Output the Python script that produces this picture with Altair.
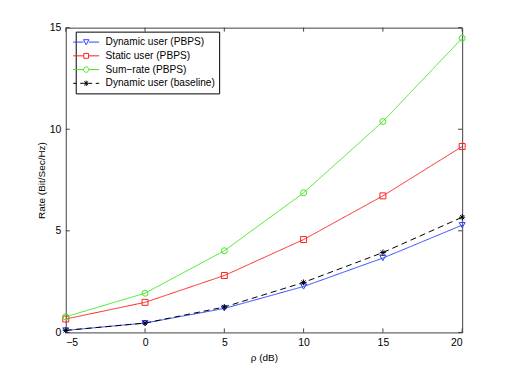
import altair as alt
import pandas as pd

rho = [-5, 0, 5, 10, 15, 20]
dynamic = [0.10, 0.46, 1.18, 2.26, 3.66, 5.28]
static = [0.66, 1.48, 2.80, 4.57, 6.72, 9.15]
sumrate = [0.77, 1.93, 4.02, 6.87, 10.38, 14.48]
baseline = [0.10, 0.46, 1.25, 2.46, 3.93, 5.67]

series_names = ["Dynamic user (PBPS)", "Static user (PBPS)", "Sum\u2212rate (PBPS)", "Dynamic user (baseline)"]
series_vals = [dynamic, static, sumrate, baseline]
colors = ["#2a44ff", "#ff2020", "#44e620", "#000000"]
dashes = [[1, 0], [1, 0], [1, 0], [6, 4]]

xticks = [-5, 0, 5, 10, 15, 20]
yticks = [0, 5, 10, 15]

W, H = 398, 306

rows = []
for name, vals in zip(series_names, series_vals):
    for x, y in zip(rho, vals):
        rows.append({"rho": x, "rate": y, "series": name, "lg": name})
df = pd.DataFrame(rows)

star = "M-1,0H1M0,-1V1M-0.7,-0.7L0.7,0.7M-0.7,0.7L0.7,-0.7"
plot_shapes = ["triangle-down", "square", "circle", star]

def lg_path(marker, dashed=False):
    if dashed:
        line = "M-2.17,0H-1.6M-1.0,0H-0.45M0.45,0H1.0M1.6,0H2.17"
    else:
        line = "M-2.17,0H-0.45M0.45,0H2.17"
    return line + marker

tri = "M-0.45,-0.4L0.45,-0.4L0,0.45Z"
sq = "M-0.4,-0.4H0.4V0.4H-0.4Z"
circ = "M-0.45,0A0.45,0.45,0,1,0,0.45,0A0.45,0.45,0,1,0,-0.45,0Z"
st = "M-0.45,0H0.45M0,-0.45V0.45M-0.32,-0.32L0.32,0.32M-0.32,0.32L0.32,-0.32"
legend_shapes = [lg_path(tri), lg_path(sq), lg_path(circ), lg_path(st, True)]

xs = alt.Scale(domain=[-5, 20], nice=False, zero=False)
ys = alt.Scale(domain=[0, 15], nice=False, zero=False)
cs = alt.Scale(domain=series_names, range=colors)

base = alt.Chart(df)

lines = base.mark_line(strokeWidth=1).encode(
    x=alt.X("rho:Q", scale=xs,
            axis=alt.Axis(values=xticks, title="\u03c1 (dB)", ticks=False, domain=False, grid=False,
                          labelPadding=5, titlePadding=5, format="d")),
    y=alt.Y("rate:Q", scale=ys,
            axis=alt.Axis(values=yticks, title="Rate (Bit/Sec/Hz)", ticks=False, domain=False, grid=False,
                          labelPadding=5, titlePadding=3, format="d")),
    color=alt.Color("series:N", scale=cs, legend=None),
    strokeDash=alt.StrokeDash("series:N", scale=alt.Scale(domain=series_names, range=dashes), legend=None),
)

points = base.mark_point(filled=False, size=36, strokeWidth=1, opacity=1).encode(
    x="rho:Q",
    y="rate:Q",
    color=alt.Color("series:N", scale=cs, legend=None),
    shape=alt.Shape("series:N", scale=alt.Scale(domain=series_names, range=plot_shapes), legend=None),
)

leg = base.mark_point(filled=False, opacity=0).encode(
    x="rho:Q",
    y="rate:Q",
    color=alt.Color("lg:N", scale=alt.Scale(domain=series_names, range=colors),
                    legend=alt.Legend(title=None, orient="none", legendX=10, legendY=4,
                                      strokeColor="#000000", fillColor="#ffffff", padding=4,
                                      symbolSize=144, symbolStrokeWidth=1, symbolOpacity=1,
                                      symbolFillColor="transparent",
                                      labelFontSize=10.2, labelFont="Liberation Sans", labelColor="#000000",
                                      labelOffset=13, rowPadding=1.8, cornerRadius=0)),
    shape=alt.Shape("lg:N", scale=alt.Scale(domain=series_names, range=legend_shapes)),
)

tdf = pd.DataFrame({"t": xticks})
ydf = pd.DataFrame({"t": yticks})
tick_color = "#404040"
xt_bot = alt.Chart(tdf).mark_rule(color=tick_color, strokeWidth=1).encode(
    x=alt.X("t:Q", scale=xs), y=alt.value(H), y2=alt.value(H - 4))
xt_top = alt.Chart(tdf).mark_rule(color=tick_color, strokeWidth=1).encode(
    x=alt.X("t:Q", scale=xs), y=alt.value(0), y2=alt.value(4))
yt_l = alt.Chart(ydf).mark_rule(color=tick_color, strokeWidth=1).encode(
    y=alt.Y("t:Q", scale=ys), x=alt.value(0), x2=alt.value(4))
yt_r = alt.Chart(ydf).mark_rule(color=tick_color, strokeWidth=1).encode(
    y=alt.Y("t:Q", scale=ys), x=alt.value(W), x2=alt.value(W - 4))

chart = alt.layer(xt_bot, xt_top, yt_l, yt_r, lines, points, leg).resolve_scale(
    color="independent", shape="independent"
).properties(
    width=W, height=H,
    autosize=alt.AutoSizeParams(type="none"),
    padding={"left": 58, "top": 19, "right": 42, "bottom": 34},
    background="#ffffff",
).configure_view(stroke=tick_color, strokeWidth=1).configure_axis(
    labelFont="Liberation Sans", labelFontSize=10.5, labelColor="#000000",
    titleFont="Liberation Sans", titleFontSize=10, titleFontWeight="normal", titleColor="#000000",
)

chart.save("out.html", embed_options={"renderer": "svg", "actions": False})
